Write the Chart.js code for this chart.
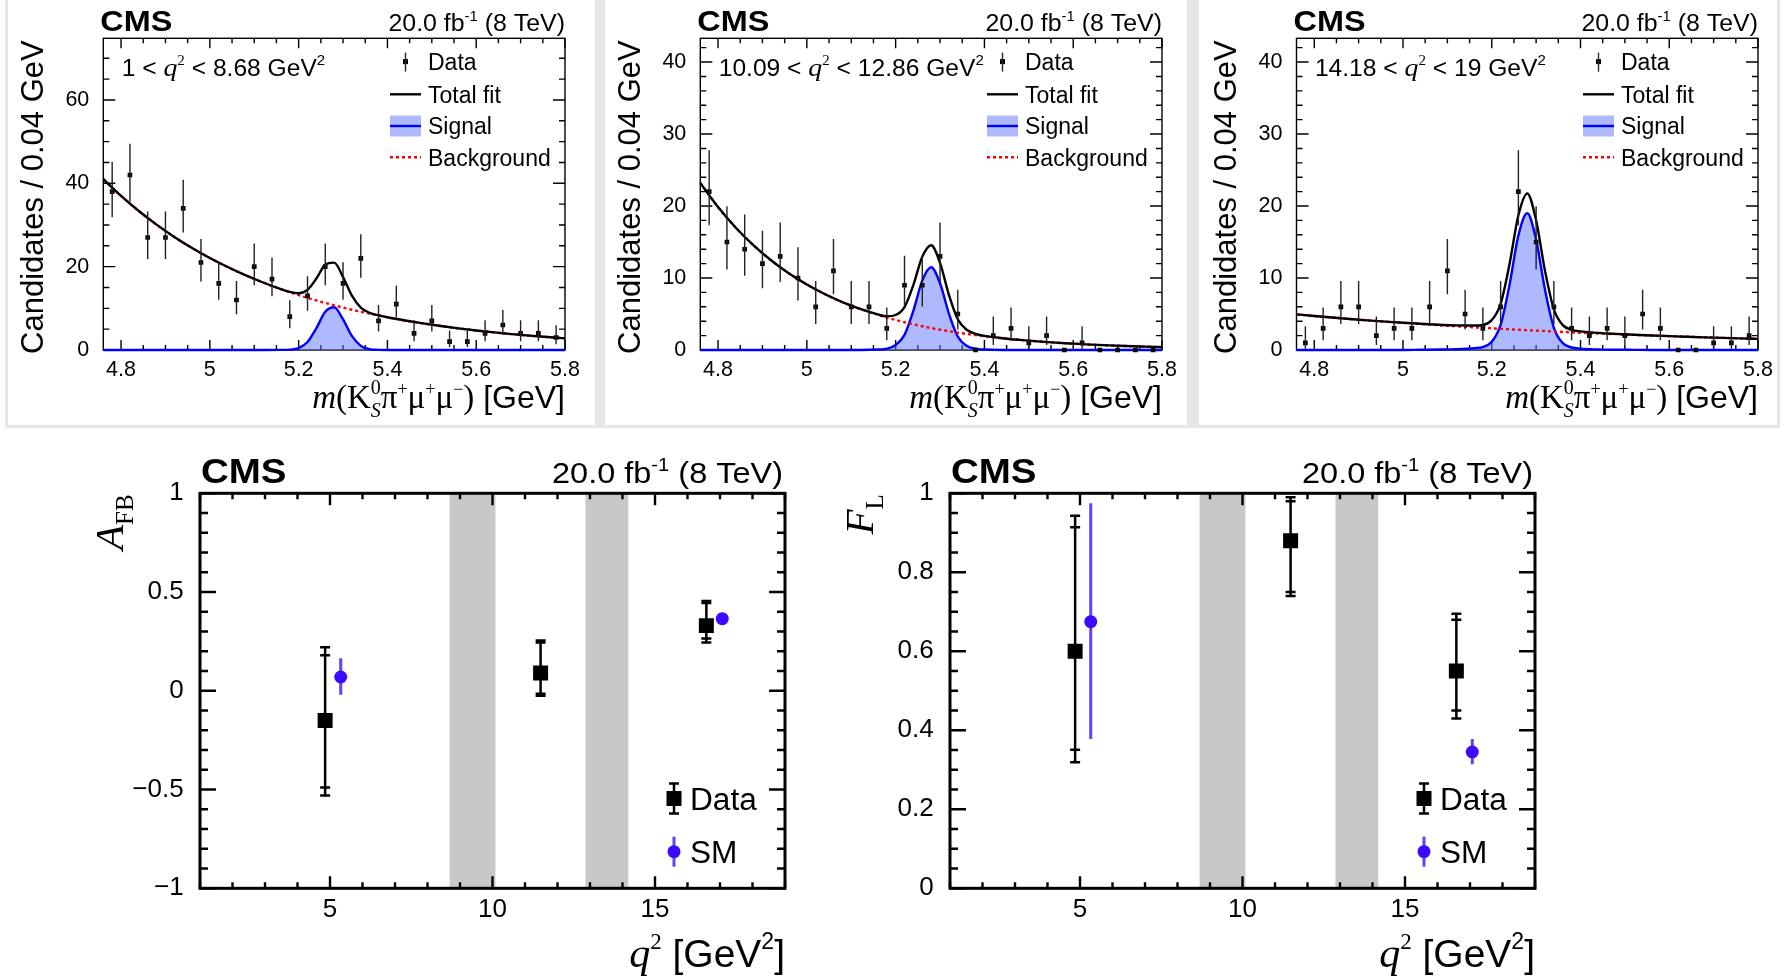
<!DOCTYPE html>
<html><head><meta charset="utf-8">
<script src="https://cdn.jsdelivr.net/npm/chart.js@4.4.1/dist/chart.umd.min.js"></script>
<style>
html,body{margin:0;padding:0;background:#fff;width:1789px;height:976px;overflow:hidden;position:relative;}
#topbg{position:absolute;left:5px;top:0;width:1775px;height:428px;background:#e6e6e6;}
canvas{position:absolute;background:#fff;}
</style></head><body>
<div id="topbg"></div>
<canvas id="c1" width="587" height="425" style="left:8px;top:0px"></canvas>
<canvas id="c2" width="582" height="425" style="left:605px;top:0px"></canvas>
<canvas id="c3" width="578" height="425" style="left:1199px;top:0px"></canvas>
<canvas id="c4" width="720" height="546" style="left:80px;top:430px"></canvas>
<canvas id="c5" width="720" height="546" style="left:830px;top:430px"></canvas>
<script>
// ================= DATA =================
const massCenters = [4.78,4.82,4.86,4.90,4.94,4.98,5.02,5.06,5.10,5.14,5.18,5.22,5.26,5.30,5.34,5.38,5.42,5.46,5.50,5.54,5.58,5.62,5.66,5.70,5.74,5.78];
const massXTicks = [4.8,5.0,5.2,5.4,5.6,5.8];

const counts1 = [38,42,27,27,34,21,16,12,20,17,8,13,20,16,22,7,11,4,7,2,2,4,6,4,4,3];
const errLo1  = [6.13,6.44,5.18,5.18,5.80,4.55,3.96,3.42,4.44,4.08,2.77,3.56,4.44,3.96,4.66,2.58,3.27,1.91,2.58,1.29,1.29,1.91,2.38,1.91,1.91,1.63];
const errHi1  = [7.19,7.50,6.25,6.25,6.86,5.66,5.08,4.56,5.55,5.20,3.94,4.70,5.55,5.08,5.76,3.77,4.42,3.16,3.77,2.64,2.64,3.16,3.58,3.16,3.16,2.92];

const counts2 = [22,15,14,12,13,10,6,11,6,6,3,9,9,13,5,0,2,3,1,2,0,1,0,0,0,0];
const errLo2  = [4.66,3.83,3.70,3.42,3.56,3.11,2.38,3.27,2.38,2.38,1.63,2.95,2.95,3.56,2.16,0,1.29,1.63,0.83,1.29,0,0.83,0,0,0,0];
const errHi2  = [5.76,4.96,4.83,4.56,4.70,4.27,3.58,4.42,3.58,3.58,2.92,4.11,4.11,4.70,3.38,0,2.64,2.92,2.30,2.64,0,2.30,0,0,0,0];

const counts3 = [1,3,6,6,2,3,3,6,11,5,3,6,22,15,6,3,2,3,2,5,3,0,0,1,1,2];
const errLo3  = [0.83,1.63,2.38,2.38,1.29,1.63,1.63,2.38,3.27,2.16,1.63,2.38,4.66,3.83,2.38,1.63,1.29,1.63,1.29,2.16,1.63,0,0,0.83,0.83,1.29];
const errHi3  = [2.30,2.92,3.58,3.58,2.64,2.92,2.92,3.58,4.42,3.38,2.92,3.58,5.76,4.96,3.58,2.92,2.64,2.92,2.64,3.38,2.92,0,0,2.30,2.30,2.64];

const fitMass = [4.76,4.80,4.84,4.88,4.92,4.96,5.00,5.04,5.08,5.12,5.16,5.18,5.20,5.22,5.24,5.26,5.28,5.30,5.32,5.34,5.36,5.38,5.40,5.44,5.48,5.52,5.56,5.60,5.64,5.68,5.72,5.76,5.80];

const bkg1 = [41.0,36.98,33.35,30.08,27.13,24.47,22.07,19.91,17.96,16.2,14.6,13.87,13.17,12.5,11.89,11.29,10.72,10.18,9.66,9.18,8.72,8.28,7.86,7.09,6.4,5.77,5.2,4.69,4.24,3.82,3.45,3.11,2.8];
const sig1 = [0,0,0,0,0,0,0,0,0,0,0.02,0.08,0.46,1.93,5.26,9.17,10.25,7.35,3.38,0.99,0.19,0.03,0,0,0,0,0,0,0,0,0,0,0];
const tot1 = [41.0,36.98,33.35,30.08,27.13,24.47,22.07,19.91,17.96,16.2,14.62,13.95,13.63,14.43,17.15,20.46,20.97,17.53,13.04,10.17,8.91,8.31,7.86,7.09,6.4,5.77,5.2,4.69,4.24,3.82,3.45,3.11,2.8];

const bkg2 = [23.2,19.85,16.98,14.53,12.43,10.63,9.1,7.78,6.66,5.7,4.88,4.51,4.17,3.86,3.57,3.30,3.05,2.82,2.61,2.42,2.23,2.07,1.91,1.64,1.4,1.2,1.02,0.88,0.75,0.64,0.55,0.47,0.4];
const sig2 = [0,0,0,0,0,0,0,0,0,0,0.06,0.17,0.69,2.1,5.47,9.64,11.5,9.27,5.06,1.86,0.58,0.17,0.06,0,0,0,0,0,0,0,0,0,0];
const tot2 = [23.2,19.85,16.98,14.53,12.43,10.63,9.1,7.78,6.66,5.7,4.94,4.68,4.86,5.96,9.04,12.94,14.55,12.09,7.67,4.28,2.81,2.24,1.97,1.64,1.4,1.2,1.02,0.88,0.75,0.64,0.55,0.47,0.4];

const bkg3 = [4.95,4.73,4.52,4.31,4.12,3.94,3.78,3.61,3.45,3.30,3.15,3.08,3.01,2.94,2.88,2.81,2.75,2.69,2.63,2.57,2.51,2.46,2.40,2.30,2.20,2.10,2.02,1.93,1.84,1.76,1.69,1.61,1.54];
const sig3 = [0,0,0,0,0,0,0,0.03,0.06,0.12,0.25,0.4,1.14,3.48,9.04,15.9,19.0,15.3,8.36,3.08,0.95,0.35,0.18,0.08,0.04,0.02,0,0,0,0,0,0,0];
const tot3 = [4.95,4.73,4.52,4.31,4.12,3.94,3.78,3.64,3.51,3.42,3.40,3.48,4.15,6.42,11.92,18.71,21.75,17.99,10.99,5.65,3.46,2.81,2.58,2.38,2.24,2.12,2.02,1.93,1.84,1.76,1.69,1.61,1.54];

// angular observables
const binCenters = [4.85, 11.48, 16.58];
const smCenters  = [5.33, 17.07];
const vetoBands  = [[8.68, 10.09], [12.86, 14.18]];
const q2Ticks    = [5, 10, 15];

const afbVal    = [-0.15, 0.09, 0.33];
const afbStatUp = [0.33, 0.155, 0.115];
const afbStatDn = [0.34, 0.105, 0.065];
const afbTotUp  = [0.37, 0.165, 0.125];
const afbTotDn  = [0.38, 0.115, 0.085];
const afbSM     = [0.07, 0.365];
const afbSMUp   = [0.095, 0.015];
const afbSMDn   = [0.09, 0.015];
const afbTicks  = [-1, -0.5, 0, 0.5, 1];

const flVal    = [0.60, 0.88, 0.55];
const flStatUp = [0.314, 0.10, 0.13];
const flStatDn = [0.249, 0.13, 0.10];
const flTotUp  = [0.343, 0.11, 0.145];
const flTotDn  = [0.281, 0.14, 0.12];
const flSM     = [0.675, 0.345];
const flSMUp   = [0.30, 0.033];
const flSMDn   = [0.297, 0.031];
const flTicks  = [0, 0.2, 0.4, 0.6, 0.8, 1];

// ================= HELPERS =================
const SANS = '"Liberation Sans", Arial, Helvetica, sans-serif';
const SERIF = '"Liberation Serif", "Times New Roman", serif';
const fs = (s, b) => (b ? 'bold ' : '') + s + 'px ' + SANS;
const fi = s => 'italic ' + s + 'px ' + SERIF;
const fr = s => s + 'px ' + SERIF;
const SIGFILL = 'rgba(95,115,255,0.5)';
const SMCOL = '#3c0aff';
const fmtNum = v => String(Math.round(v * 100) / 100).replace('-', '\u2212');

function segWidth(ctx, s) {
  if (s.stack) { let m = 0; for (const t of s.stack) { ctx.font = t.f; m = Math.max(m, ctx.measureText(t.t).width); } return m; }
  ctx.font = s.f; return ctx.measureText(s.t).width;
}
function drawRich(ctx, x, y, segs, align, sx) {
  sx = sx || 1;
  let w = 0; for (const s of segs) w += segWidth(ctx, s);
  const x0 = align === 'right' ? x - w * sx : (align === 'center' ? x - w * sx / 2 : x);
  ctx.save();
  ctx.translate(x0, y); ctx.scale(sx, 1);
  ctx.textAlign = 'left'; ctx.textBaseline = 'alphabetic'; ctx.fillStyle = '#000';
  let cx = 0;
  for (const s of segs) {
    if (s.stack) { for (const t of s.stack) { ctx.font = t.f; ctx.fillText(t.t, cx, t.dy || 0); } }
    else { ctx.font = s.f; ctx.fillText(s.t, cx, s.dy || 0); }
    cx += segWidth(ctx, s);
  }
  ctx.restore();
}
function drawTicks(chart, spec) {
  const { ctx, chartArea: ca, scales: { x, y } } = chart;
  ctx.beginPath();
  const run = (sc, step, len, horiz) => {
    const n0 = Math.ceil(sc.min / step - 1e-6), n1 = Math.floor(sc.max / step + 1e-6);
    for (let n = n0; n <= n1; n++) {
      const px = sc.getPixelForValue(n * step);
      if (horiz) { ctx.moveTo(px, ca.bottom); ctx.lineTo(px, ca.bottom - len); ctx.moveTo(px, ca.top); ctx.lineTo(px, ca.top + len); }
      else { ctx.moveTo(ca.left, px); ctx.lineTo(ca.left + len, px); ctx.moveTo(ca.right, px); ctx.lineTo(ca.right - len, px); }
    }
  };
  run(x, spec.xMaj, spec.xMajLen, true); run(x, spec.xMin, spec.xMinLen, true);
  run(y, spec.yMaj, spec.yMajLen, false); run(y, spec.yMin, spec.yMinLen, false);
  ctx.stroke();
}

// ================= MASS PANELS =================
const massPanels = [
  { id: 'c1', counts: counts1, lo: errLo1, hi: errHi1, bkg: bkg1, sig: sig1, tot: tot1, ymax: 74.8, yTicks: [0,20,40,60], yMaj: 20, yMin: 5,
    yAxisW: 95.3, padR: 30,
    region: [{t:'1 < ',f:fs(23)},{t:'q',f:fi(26)},{t:'2',f:fr(14),dy:-11},{t:' < 8.68 GeV',f:fs(23)},{t:'2',f:fs(14),dy:-11}] },
  { id: 'c2', counts: counts2, lo: errLo2, hi: errHi2, bkg: bkg2, sig: sig2, tot: tot2, ymax: 43.3, yTicks: [0,10,20,30,40], yMaj: 10, yMin: 2,
    yAxisW: 95.3, padR: 25,
    region: [{t:'10.09 < ',f:fs(23)},{t:'q',f:fi(26)},{t:'2',f:fr(14),dy:-11},{t:' < 12.86 GeV',f:fs(23)},{t:'2',f:fs(14),dy:-11}] },
  { id: 'c3', counts: counts3, lo: errLo3, hi: errHi3, bkg: bkg3, sig: sig3, tot: tot3, ymax: 43.3, yTicks: [0,10,20,30,40], yMaj: 10, yMin: 2,
    yAxisW: 97.5, padR: 19,
    region: [{t:'14.18 < ',f:fs(23)},{t:'q',f:fi(26)},{t:'2',f:fr(14),dy:-11},{t:' < 19 GeV',f:fs(23)},{t:'2',f:fs(14),dy:-11}] }
];

function massDecor(p) {
  return {
    id: 'massDecor',
    beforeDatasetsDraw(chart) {
      const { ctx, chartArea: ca } = chart;
      ctx.save(); ctx.strokeStyle = '#000'; ctx.lineWidth = 1.4;
      ctx.strokeRect(ca.left, ca.top, ca.right - ca.left, ca.bottom - ca.top);
      drawTicks(chart, { xMaj: 0.2, xMajLen: 10, xMin: 0.05, xMinLen: 5, yMaj: p.yMaj, yMajLen: 12, yMin: p.yMin, yMinLen: 6 });
      ctx.restore();
    },
    afterDatasetsDraw(chart) {
      const { ctx, scales: { x, y } } = chart;
      ctx.save(); ctx.strokeStyle = '#222'; ctx.lineWidth = 1.4;
      ctx.beginPath();
      massCenters.forEach((m, i) => {
        if (!p.lo[i] && !p.hi[i]) return;
        const px = x.getPixelForValue(m);
        ctx.moveTo(px, y.getPixelForValue(p.counts[i] - p.lo[i]));
        ctx.lineTo(px, y.getPixelForValue(p.counts[i] + p.hi[i]));
      });
      ctx.stroke(); ctx.restore();
    },
    afterDraw(chart) {
      const { ctx, chartArea: ca } = chart;
      ctx.save();
      drawRich(ctx, ca.left - 3, ca.top - 7.8, [{ t: 'CMS', f: fs(30, true) }], 'left', 1.08);
      drawRich(ctx, ca.right, ca.top - 7.8, [{ t: '20.0 fb', f: fs(23.5) }, { t: '-1', f: fs(14), dy: -10 }, { t: ' (8 TeV)', f: fs(23.5) }], 'right', 1.06);
      drawRich(ctx, ca.left + 18.4, ca.top + 37.5, p.region, 'left', 1.07);
      // legend
      const lx0 = ca.right - 175, lx1 = ca.right - 144, lxc = (lx0 + lx1) / 2, tx = ca.right - 137;
      const rows = [ca.top + 23.3, ca.top + 56, ca.top + 87.7, ca.top + 119];
      ctx.fillStyle = '#000'; ctx.fillRect(lxc - 2.5, rows[0] - 2.5, 5, 5);
      ctx.strokeStyle = '#2a2a2a'; ctx.lineWidth = 1.4; ctx.beginPath(); ctx.moveTo(lxc, rows[0] - 9); ctx.lineTo(lxc, rows[0] + 10); ctx.stroke();
      ctx.strokeStyle = '#000'; ctx.lineWidth = 2.4; ctx.beginPath(); ctx.moveTo(lx0, rows[1]); ctx.lineTo(lx1, rows[1]); ctx.stroke();
      ctx.fillStyle = SIGFILL; ctx.fillRect(lx0, rows[2] - 10.5, lx1 - lx0, 21);
      ctx.strokeStyle = '#0000ff'; ctx.beginPath(); ctx.moveTo(lx0, rows[2]); ctx.lineTo(lx1, rows[2]); ctx.stroke();
      ctx.strokeStyle = '#ff0000'; ctx.setLineDash([3, 3]); ctx.beginPath(); ctx.moveTo(lx0, rows[3]); ctx.lineTo(lx1, rows[3]); ctx.stroke(); ctx.setLineDash([]);
      ['Data', 'Total fit', 'Signal', 'Background'].forEach((t, i) => drawRich(ctx, tx, rows[i] + 8.2, [{ t, f: fs(23) }], 'left', 1.0));
      // axis titles
      ctx.save(); ctx.translate(ca.left - 60.6, ca.top + 2); ctx.rotate(-Math.PI / 2);
      drawRich(ctx, 0, 0, [{ t: 'Candidates / 0.04 GeV', f: fs(31) }], 'right', 1);
      ctx.restore();
      drawRich(ctx, ca.right, ca.bottom + 58.3, [
        { t: 'm', f: fi(33) }, { t: '(K', f: fr(33) },
        { stack: [{ t: '0', f: fr(20), dy: -14 }, { t: 'S', f: fi(20), dy: 9 }] },
        { t: 'π', f: fr(33) }, { t: '+', f: fr(18), dy: -13 }, { t: 'μ', f: fr(33) }, { t: '+', f: fr(18), dy: -13 },
        { t: 'μ', f: fr(33) }, { t: '−', f: fr(18), dy: -13 }, { t: ')', f: fr(33) }, { t: ' [GeV]', f: fs(32) }], 'right', 1);
      ctx.restore();
    }
  };
}

function makeMassChart(p) {
  const line = (arr, extra) => Object.assign({
    data: fitMass.map((m, i) => ({ x: m, y: arr[i] })), showLine: true, pointRadius: 0, pointHoverRadius: 0,
    borderWidth: 2.4, cubicInterpolationMode: 'monotone', clip: 3
  }, extra);
  return new Chart(document.getElementById(p.id), {
    type: 'scatter',
    data: { datasets: [
      { label: 'Data', data: massCenters.map((m, i) => ({ x: m, y: p.counts[i] })), pointStyle: 'rect', pointRadius: 3.3,
        pointBackgroundColor: '#000', pointBorderWidth: 0, showLine: false, order: 0, clip: 5 },
      line(p.tot, { label: 'Total fit', borderColor: '#000', order: 1 }),
      line(p.bkg, { label: 'Background', borderColor: '#ff0000', borderDash: [3, 3], order: 2 }),
      line(p.sig, { label: 'Signal', borderColor: '#0000ff', fill: 'origin', backgroundColor: SIGFILL, order: 3 })
    ] },
    options: {
      responsive: false, animation: false, devicePixelRatio: 1,
      layout: { padding: { left: 0, top: 38.3, right: p.padR, bottom: 0 }, autoPadding: false },
      plugins: { legend: { display: false }, tooltip: { enabled: false } },
      scales: {
        x: { type: 'linear', min: 4.76, max: 5.8, grid: { display: false }, border: { display: false },
             afterBuildTicks: s => { s.ticks = massXTicks.map(v => ({ value: v })); },
             afterFit: s => { s.height = 75; },
             ticks: { font: { family: SANS, size: 21.5 }, color: '#000', padding: -1, maxRotation: 0, minRotation: 0, autoSkip: false, callback: fmtNum } },
        y: { type: 'linear', min: 0, max: p.ymax, grid: { display: false }, border: { display: false },
             afterBuildTicks: s => { s.ticks = p.yTicks.map(v => ({ value: v })); },
             afterFit: s => { s.width = p.yAxisW; },
             ticks: { font: { family: SANS, size: 21.5 }, color: '#000', padding: 6, autoSkip: false, callback: fmtNum } }
      }
    },
    plugins: [massDecor(p)]
  });
}
massPanels.forEach(makeMassChart);

// ================= ANGULAR PANELS =================
const angPanels = [
  { id: 'c4', val: afbVal, stU: afbStatUp, stD: afbStatDn, toU: afbTotUp, toD: afbTotDn, sm: afbSM, smU: afbSMUp, smD: afbSMDn,
    ymin: -1, ymax: 1, yTicks: afbTicks, yMaj: 0.5, yMin: 0.1, title: [{ t: 'A', f: fi(41) }, { t: 'FB', f: fr(25), dy: 10 }] },
  { id: 'c5', val: flVal, stU: flStatUp, stD: flStatDn, toU: flTotUp, toD: flTotDn, sm: flSM, smU: flSMUp, smD: flSMDn,
    ymin: 0, ymax: 1, yTicks: flTicks, yMaj: 0.2, yMin: 0.05, title: [{ t: 'F', f: fi(41) }, { t: 'L', f: fr(25), dy: 10 }] }
];

function angDecor(p) {
  return {
    id: 'angDecor',
    beforeDatasetsDraw(chart) {
      const { ctx, chartArea: ca, scales: { x, y } } = chart;
      ctx.save();
      ctx.fillStyle = '#c8c8c8';
      vetoBands.forEach(b => { const a = x.getPixelForValue(b[0]), c = x.getPixelForValue(b[1]); ctx.fillRect(a, ca.top, c - a, ca.bottom - ca.top); });
      ctx.strokeStyle = '#000'; ctx.lineWidth = 3;
      ctx.strokeRect(ca.left, ca.top, ca.right - ca.left, ca.bottom - ca.top);
      ctx.lineWidth = 2.4;
      drawTicks(chart, { xMaj: 5, xMajLen: 12, xMin: 1, xMinLen: 6, yMaj: p.yMaj, yMajLen: 16, yMin: p.yMin, yMinLen: 8 });
      // SM error bars
      ctx.strokeStyle = 'rgba(70,30,255,0.85)'; ctx.lineWidth = 3;
      ctx.beginPath();
      smCenters.forEach((q, i) => { const px = x.getPixelForValue(q); ctx.moveTo(px, y.getPixelForValue(p.sm[i] - p.smD[i])); ctx.lineTo(px, y.getPixelForValue(p.sm[i] + p.smU[i])); });
      ctx.stroke();
      // data error bars (stat inner caps, total outer caps)
      ctx.strokeStyle = '#000'; ctx.lineWidth = 2.5;
      ctx.beginPath();
      binCenters.forEach((q, i) => {
        const px = x.getPixelForValue(q);
        const ends = [p.val[i] + p.toU[i], p.val[i] - p.toD[i], p.val[i] + p.stU[i], p.val[i] - p.stD[i]];
        ctx.moveTo(px, y.getPixelForValue(ends[0])); ctx.lineTo(px, y.getPixelForValue(ends[1]));
        ends.forEach(v => { const py = y.getPixelForValue(v); ctx.moveTo(px - 5, py); ctx.lineTo(px + 5, py); });
      });
      ctx.stroke();
      ctx.restore();
    },
    afterDraw(chart) {
      const { ctx, chartArea: ca } = chart;
      ctx.save();
      drawRich(ctx, ca.left + 1, ca.top - 10.5, [{ t: 'CMS', f: fs(35, true) }], 'left', 1.1);
      drawRich(ctx, ca.right - 2, ca.top - 10.5, [{ t: '20.0 fb', f: fs(29) }, { t: '-1', f: fs(18), dy: -12 }, { t: ' (8 TeV)', f: fs(29) }], 'right', 1.12);
      ctx.save(); ctx.translate(ca.left - 77, ca.top + 1); ctx.rotate(-Math.PI / 2);
      drawRich(ctx, 0, 0, p.title, 'right', 1);
      ctx.restore();
      drawRich(ctx, ca.right, ca.bottom + 78.7, [{ t: 'q', f: fi(42) }, { t: '2', f: fr(23), dy: -18 }, { t: ' [GeV', f: fs(39) }, { t: '2', f: fs(23), dy: -18 }, { t: ']', f: fs(39) }], 'right', 1.0);
      // legend
      const mx = ca.right - 111, tx = ca.right - 95, r1 = ca.bottom - 89.8, r2 = ca.bottom - 36.6;
      ctx.strokeStyle = '#000'; ctx.lineWidth = 2.5; ctx.beginPath();
      ctx.moveTo(mx, r1 - 15); ctx.lineTo(mx, r1 + 15);
      [r1 - 15, r1 + 15].forEach(v => { ctx.moveTo(mx - 5, v); ctx.lineTo(mx + 5, v); });
      ctx.stroke();
      ctx.fillStyle = '#000'; ctx.fillRect(mx - 7.5, r1 - 7.5, 15, 15);
      ctx.strokeStyle = 'rgba(70,30,255,0.85)'; ctx.lineWidth = 3; ctx.beginPath(); ctx.moveTo(mx, r2 - 15); ctx.lineTo(mx, r2 + 15); ctx.stroke();
      ctx.fillStyle = SMCOL; ctx.beginPath(); ctx.arc(mx, r2, 6.5, 0, Math.PI * 2); ctx.fill();
      drawRich(ctx, tx, r1 + 11, [{ t: 'Data', f: fs(31) }], 'left', 1.02);
      drawRich(ctx, tx, r2 + 11, [{ t: 'SM', f: fs(31) }], 'left', 1.02);
      ctx.restore();
    }
  };
}

function makeAngChart(p) {
  return new Chart(document.getElementById(p.id), {
    type: 'scatter',
    data: { datasets: [
      { label: 'Data', data: binCenters.map((q, i) => ({ x: q, y: p.val[i] })), pointStyle: 'rect', pointRadius: 10.6,
        pointBackgroundColor: '#000', pointBorderWidth: 0, order: 0, clip: 12 },
      { label: 'SM', data: smCenters.map((q, i) => ({ x: q, y: p.sm[i] })), pointStyle: 'circle', pointRadius: 6.5,
        pointBackgroundColor: SMCOL, pointBorderWidth: 0, order: 1, clip: 12 }
    ] },
    options: {
      responsive: false, animation: false, devicePixelRatio: 1,
      layout: { padding: { left: 0, top: 63.3, right: 15, bottom: 0 }, autoPadding: false },
      plugins: { legend: { display: false }, tooltip: { enabled: false } },
      scales: {
        x: { type: 'linear', min: 1, max: 19, grid: { display: false }, border: { display: false },
             afterBuildTicks: s => { s.ticks = q2Ticks.map(v => ({ value: v })); },
             afterFit: s => { s.height = 87.7; },
             ticks: { font: { family: SANS, size: 26 }, color: '#000', padding: -2, maxRotation: 0, minRotation: 0, autoSkip: false, callback: fmtNum } },
        y: { type: 'linear', min: p.ymin, max: p.ymax, grid: { display: false }, border: { display: false },
             afterBuildTicks: s => { s.ticks = p.yTicks.map(v => ({ value: v })); },
             afterFit: s => { s.width = 120; },
             ticks: { font: { family: SANS, size: 26 }, color: '#000', padding: 8.3, autoSkip: false, callback: fmtNum } }
      }
    },
    plugins: [angDecor(p)]
  });
}
angPanels.forEach(makeAngChart);
</script>
</body></html>
